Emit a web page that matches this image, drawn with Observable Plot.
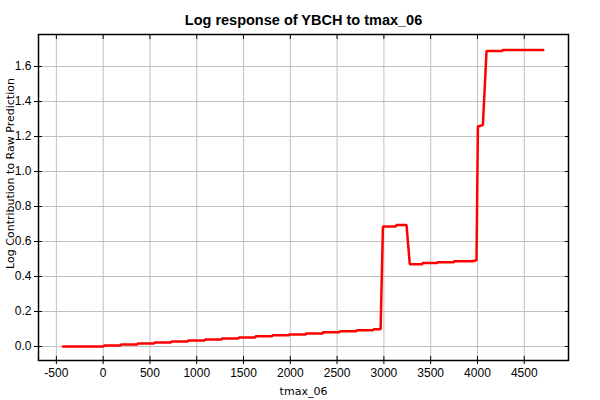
<!DOCTYPE html>
<html>
<head>
<meta charset="utf-8">
<script src="https://cdn.jsdelivr.net/npm/d3@7"></script>
<script src="https://cdn.jsdelivr.net/npm/@observablehq/plot@0.6"></script>
<style>
  html, body { margin: 0; padding: 0; background: #fff; }
  #chart svg { display: block; }
</style>
</head>
<body>
<div id="chart"></div>
<script>
const title = "Log response of YBCH to tmax_06";
const xLabel = "tmax_06";
const yLabel = "Log Contribution to Raw Prediction";
const xTicks = [-500, 0, 500, 1000, 1500, 2000, 2500, 3000, 3500, 4000, 4500];
const yTicks = [0, 0.2, 0.4, 0.6, 0.8, 1.0, 1.2, 1.4, 1.6];

// response curve points (x = tmax_06, y = log contribution)
const xs = [-430, 5, 10, 185, 190, 365, 370, 545, 550, 725, 730, 905, 910, 1085, 1090, 1265, 1270, 1445, 1450, 1625, 1630, 1805, 1810, 1985, 1990, 2165, 2170, 2345, 2350, 2525, 2530, 2705, 2710, 2885, 2890, 2965,
            2990, 3125, 3135, 3242, 3277, 3410, 3415, 3570, 3575, 3748, 3753, 3944, 3990,
            4005, 4015, 4058, 4097, 4265, 4270, 4703];
const ys = [0, 0, 0.006, 0.006, 0.012, 0.012, 0.017, 0.017, 0.023, 0.023, 0.029, 0.029, 0.035, 0.035, 0.040, 0.040, 0.046, 0.046, 0.052, 0.052, 0.058, 0.058, 0.064, 0.064, 0.069, 0.069, 0.075, 0.075, 0.081, 0.081, 0.087, 0.087, 0.093, 0.093, 0.098, 0.098,
            0.686, 0.686, 0.694, 0.694, 0.470, 0.470, 0.477, 0.477, 0.482, 0.482, 0.487, 0.487, 0.493,
            1.259, 1.259, 1.265, 1.689, 1.689, 1.695, 1.695];
const data = xs.map((x, i) => ({x, y: ys[i]}));
const none = () => "";
const tickFont = "'Liberation Sans', Arial, sans-serif";

const chart = Plot.plot({
  width: 600,
  height: 400,
  marginLeft: 38,
  marginRight: 32,
  marginTop: 34,
  marginBottom: 40,
  style: {fontFamily: "'DejaVu Sans', sans-serif", fontSize: "11px", background: "#fff", color: "#000"},
  x: {domain: [-691, 4973], label: null},
  y: {domain: [-0.08, 1.783], label: null},
  marks: [
    Plot.gridX(xTicks, {stroke: "#c0c0c0", strokeOpacity: 1, strokeWidth: 1}),
    Plot.gridY(yTicks, {stroke: "#c0c0c0", strokeOpacity: 1, strokeWidth: 1}),
    Plot.axisX(xTicks, {anchor: "bottom", tickSize: 4, tickPadding: 4, tickFormat: d => String(d), fontSize: 12, fontFamily: tickFont, label: null}),
    Plot.axisX(xTicks, {anchor: "bottom", tickSize: -4, tickFormat: none, label: null}),
    Plot.axisX(xTicks, {anchor: "top", tickSize: -4, tickFormat: none, label: null}),
    Plot.axisY(yTicks, {anchor: "left", tickSize: 4, tickPadding: 3, tickFormat: d3.format(".1f"), fontSize: 12, fontFamily: tickFont, label: null}),
    Plot.axisY(yTicks, {anchor: "left", tickSize: -4, tickFormat: none, label: null}),
    Plot.axisY(yTicks, {anchor: "right", tickSize: -4, tickFormat: none, label: null}),
    Plot.frame({stroke: "#000", strokeWidth: 1.5}),
    Plot.line(data, {x: "x", y: "y", stroke: "#ff0000", strokeWidth: 2.5, strokeLinejoin: "miter"}),
    Plot.text([title], {frameAnchor: "top", dy: -20, fontSize: 14.5, fontWeight: "bold", fontFamily: "'Liberation Sans', Arial, sans-serif"}),
    Plot.text([xLabel], {frameAnchor: "bottom", dy: 34, fontSize: 11}),
    Plot.text([yLabel], {frameAnchor: "top-left", dx: -28, dy: 139, rotate: -90, textAnchor: "middle", lineAnchor: "middle", fontSize: 11})
  ]
});
document.getElementById("chart").appendChild(chart);
</script>
</body>
</html>
